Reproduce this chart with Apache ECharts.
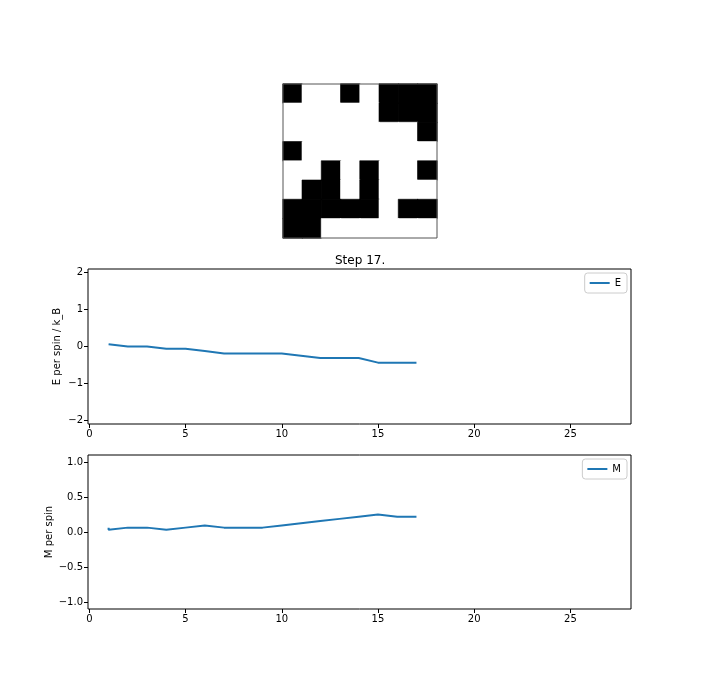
<!DOCTYPE html>
<html>
<head>
<meta charset="utf-8">
<script src="https://cdn.jsdelivr.net/npm/echarts@6/dist/echarts.min.js"></script>
<style>html,body{margin:0;padding:0;background:#fff;}#c{width:702px;height:697px;}</style>
</head>
<body>
<div id="c"></div>
<script>
// 8x8 spin lattice at step 17 (1 = black, 0 = white)
var latticeRows = [
  "10010111",
  "00000111",
  "00000001",
  "10000000",
  "00101001",
  "01101000",
  "11111011",
  "11000000"
];
var titleText = "Step 17.";
var eSteps = [1,2,3,4,5,6,7,8,9,10,11,12,13,14,15,16,17];
var eValues = [0.0625,0,0,-0.0625,-0.0625,-0.125,-0.1875,-0.1875,-0.1875,-0.1875,-0.25,-0.3125,-0.3125,-0.3125,-0.4375,-0.4375,-0.4375];
var mSteps = [1,1,2,3,4,5,6,7,8,9,10,11,12,13,14,15,16,17];
var mValues = [0.0625,0.03125,0.0625,0.0625,0.03125,0.0625,0.09375,0.0625,0.0625,0.0625,0.09375,0.125,0.15625,0.1875,0.21875,0.25,0.21875,0.21875];
var xTicks = [0,5,10,15,20,25];
var eTicks = [-2,-1,0,1,2];
var mTicks = [-1.0,-0.5,0.0,0.5,1.0];

var spinColors = ['#ffffff', '#000000'];
var cells = [];
latticeRows.forEach(function(r, i){
  for (var j = 0; j < r.length; j++) {
    var v = Number(r[j]);
    cells.push({value:[j, i, v], itemStyle:{color:spinColors[v], borderColor:spinColors[v], borderWidth:0.6}});
  }
});
var idx8 = [0,1,2,3,4,5,6,7];
function minus(s){ return String(s).replace('-', '\u2212'); }
var font = 'DejaVu Sans';
var lineColor = '#1f77b4';
var hiddenLine = {show:true, onZero:false, lineStyle:{color:'rgba(0,0,0,0)', width:1}};

function xAxisCfg(gi){
  return {
    type:'value', gridIndex:gi, min:-0.07, max:28.15,
    axisLine:hiddenLine,
    axisTick:{show:true, length:4, lineStyle:{color:'#000'}, customValues:xTicks},
    axisLabel:{color:'#000', fontFamily:font, fontSize:10, margin:5, customValues:xTicks},
    splitLine:{show:false}
  };
}
function yAxisCfg(gi, mn, mx, ticks, name, gap, fmt){
  return {
    type:'value', gridIndex:gi, min:mn, max:mx,
    name:name, nameLocation:'middle', nameGap:gap, nameRotate:90, nameMoveOverlap:false,
    nameTextStyle:{color:'#000', fontFamily:font, fontSize:10},
    axisLine:hiddenLine,
    axisTick:{show:true, length:4, lineStyle:{color:'#000'}, customValues:ticks},
    axisLabel:{color:'#000', fontFamily:font, fontSize:10, margin:5, customValues:ticks, formatter:fmt},
    splitLine:{show:false}
  };
}

var chart = echarts.init(document.getElementById('c'), null, {renderer:'canvas'});
chart.setOption({
  animation:false,
  backgroundColor:'#fff',
  title:{text:titleText, left:330, top:250,
    textStyle:{fontFamily:font, fontSize:12, fontWeight:'normal', color:'#000'}},
  legend:[
    {data:['E'], right:75, top:273, orient:'vertical', icon:'rect', itemWidth:20, itemHeight:2,
     borderColor:'#ccc', borderWidth:1, borderRadius:3, padding:[5,6,5,5], itemGap:4,
     textStyle:{fontFamily:font, fontSize:10, color:'#000'}},
    {data:['M'], right:75, top:459, orient:'vertical', icon:'rect', itemWidth:20, itemHeight:2,
     borderColor:'#ccc', borderWidth:1, borderRadius:3, padding:[5,6,5,5], itemGap:4,
     textStyle:{fontFamily:font, fontSize:10, color:'#000'}}
  ],
  grid:[
    {left:283, top:84, width:154, height:154, show:true, borderColor:'#555', borderWidth:1, backgroundColor:'transparent', z:10},
    {left:88, top:269, width:543, height:155, show:true, borderColor:'#000', borderWidth:1},
    {left:88, top:455, width:543, height:154, show:true, borderColor:'#000', borderWidth:1}
  ],
  xAxis:[
    {type:'category', gridIndex:0, data:idx8, show:false},
    xAxisCfg(1),
    xAxisCfg(2)
  ],
  yAxis:[
    {type:'category', gridIndex:0, data:idx8, show:false, inverse:true},
    yAxisCfg(1, -2.1, 2.1, eTicks, 'E per spin / k_B', 26, function(v){ return minus(v); }),
    yAxisCfg(2, -1.1, 1.1, mTicks, 'M per spin', 34, function(v){ return minus(v.toFixed(1)); })
  ],
  series:[
    {type:'heatmap', xAxisIndex:0, yAxisIndex:0, data:cells},
    {type:'line', name:'E', xAxisIndex:1, yAxisIndex:1, showSymbol:false, symbol:'none',
     data:eSteps.map(function(x,i){ return [x, eValues[i]]; }),
     lineStyle:{color:lineColor, width:2}, itemStyle:{color:lineColor}},
    {type:'line', name:'M', xAxisIndex:2, yAxisIndex:2, showSymbol:false, symbol:'none',
     data:mSteps.map(function(x,i){ return [x, mValues[i]]; }),
     lineStyle:{color:lineColor, width:2}, itemStyle:{color:lineColor}}
  ]
});
</script>
</body>
</html>
